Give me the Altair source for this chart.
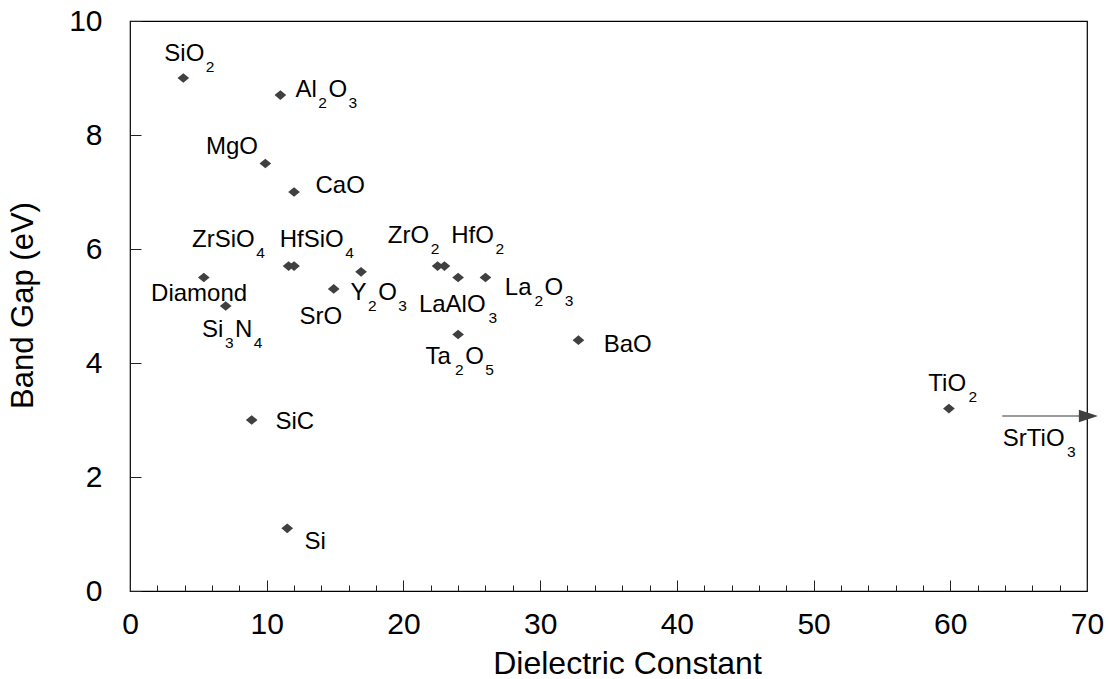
import altair as alt
import pandas as pd

# ---------------- data ----------------
names = ["SiO2", "Al2O3", "MgO", "CaO", "ZrSiO4", "HfSiO4", "Diamond", "Si3N4", "SrO",
         "Y2O3", "ZrO2", "HfO2", "LaAlO3", "La2O3", "Ta2O5", "BaO", "TiO2", "SiC", "Si"]
dielectric = [3.9, 11.0, 9.9, 12.0, 11.6, 12.0, 5.4, 7.0, 14.9,
              16.9, 22.5, 23.0, 24.0, 26.0, 24.0, 32.8, 59.9, 8.9, 11.5]
band_gap = [9.0, 8.7, 7.5, 7.0, 5.7, 5.7, 5.5, 5.0, 5.3,
            5.6, 5.7, 5.7, 5.5, 5.5, 4.5, 4.4, 3.2, 3.0, 1.1]

# annotation labels ("_d" = subscript digit) and their anchors in data units
label_texts = ["SiO_2", "Al_2O_3", "MgO", "CaO", "ZrSiO_4", "HfSiO_4", "Diamond", "Si_3N_4",
               "SrO", "Y_2O_3", "ZrO_2", "HfO_2", "LaAlO_3", "La_2O_3", "Ta_2O_5", "BaO",
               "TiO_2", "SiC", "Si", "SrTiO_3"]
label_x = [2.51, 12.10, 5.56, 13.57, 4.54, 10.95, 1.54, 5.27, 12.39, 16.13, 18.86, 23.50,
           21.13, 27.42, 21.62, 34.65, 58.39, 10.64, 12.76, 63.84]
label_y = [9.30, 8.67, 7.66, 6.99, 6.04, 6.04, 5.09, 4.45, 4.68, 5.11, 6.11, 6.11,
           4.90, 5.19, 3.98, 4.20, 3.51, 2.85, 0.74, 2.54]

# SrTiO3 arrow (off-scale value)
arrow_start = [63.8]
arrow_end = [70.1]
arrow_gap = [3.07]

x_major = [0, 10, 20, 30, 40, 50, 60, 70]
x_minor = [v for v in range(2, 70, 2) if v % 10 != 0]
y_major = [0, 2, 4, 6, 8, 10]

# ---------------- styling ----------------
FONT = "Liberation Sans"
MAIN_FS = 24
SUB_FS = 15.5
SUB_DROP = 11
GAP = 1.5
W, H = 957, 570
XMAX, YMAX = 70, 10

ARIAL = {"S": 667, "i": 222, "O": 778, "A": 667, "l": 222, "M": 833, "g": 556, "C": 722,
         "a": 556, "Z": 611, "r": 333, "H": 722, "f": 278, "D": 722, "m": 833, "o": 556,
         "n": 556, "d": 556, "N": 722, "Y": 667, "L": 611, "T": 611, "B": 667}


def text_width(s, fs):
    return sum(ARIAL.get(c, 556) for c in s) * fs / 1000.0


def segments(label):
    segs, cur, i = [], "", 0
    while i < len(label):
        if label[i] == "_":
            if cur:
                segs.append((cur, False))
                cur = ""
            segs.append((label[i + 1], True))
            i += 2
        else:
            cur += label[i]
            i += 1
    if cur:
        segs.append((cur, False))
    return segs


rows = []
for txt, lx, ly in zip(label_texts, label_x, label_y):
    off = 0.0
    for s, sub in segments(txt):
        fs = SUB_FS if sub else MAIN_FS
        drop = SUB_DROP if sub else 0
        rows.append(dict(
            sx=lx + off * XMAX / W,
            sy=ly - drop * YMAX / H,
            seg=s, fs=fs))
        off += text_width(s, fs) + GAP
labels_df = pd.DataFrame(rows)

points_df = pd.DataFrame({"name": names, "k": dielectric, "gap": band_gap})
arrow_df = pd.DataFrame({"x0": arrow_start, "x1": arrow_end, "y": arrow_gap})

xs = alt.Scale(domain=[0, XMAX], nice=False, zero=False)
ys = alt.Scale(domain=[0, YMAX], nice=False, zero=False)

DIAMOND = "M-1,0L0,-0.83L1,0L0,0.83Z"
ARROWHEAD = "M-1,-0.65L1,0L-1,0.65Z"

points = alt.Chart(points_df).mark_point(
    shape=DIAMOND, filled=True, size=137, color="#404040", opacity=1
).encode(
    x=alt.X("k:Q", scale=xs, axis=alt.Axis(
        orient="bottom", values=x_major, ticks=False, tickSize=0, domain=False, grid=False,
        labelFont=FONT, labelFontSize=30, labelColor="black", labelPadding=18,
        labelFlush=False, labelOverlap=False,
        title="Dielectric Constant", titleFont=FONT, titleFontSize=32,
        titleFontWeight="normal", titleColor="black", titleX=497, titleY=82,
        titleAlign="center", titleBaseline="alphabetic")),
    y=alt.Y("gap:Q", scale=ys, axis=alt.Axis(
        orient="left", values=y_major, ticks=False, tickSize=0, domain=False, grid=False,
        labelFont=FONT, labelFontSize=30, labelColor="black", labelPadding=28,
        labelFlush=False, labelOverlap=False,
        title="Band Gap (eV)", titleFont=FONT, titleFontSize=31,
        titleFontWeight="normal", titleColor="black", titleX=-107, titleY=284,
        titleAlign="center", titleBaseline="middle")),
)

labels = alt.Chart(labels_df).mark_text(
    align="left", baseline="alphabetic", font=FONT, color="black"
).encode(
    x=alt.X("sx:Q", scale=xs, axis=None),
    y=alt.Y("sy:Q", scale=ys, axis=None),
    size=alt.Size("fs:Q", scale=None),
    text="seg:N",
)

arrow_line = alt.Chart(arrow_df).mark_rule(color="#7a7a7a", strokeWidth=1.5).encode(
    x=alt.X("x0:Q", scale=xs, axis=alt.Axis(
        orient="top", offset=-H, values=x_major, tickSize=11, tickColor="#222222",
        labels=False, domain=False, grid=False, title=None)),
    x2="x1:Q",
    y=alt.Y("y:Q", scale=ys, axis=alt.Axis(
        orient="right", offset=-W, values=y_major, tickSize=11, tickColor="#222222",
        labels=False, domain=False, grid=False, title=None)),
)

arrow_head = alt.Chart(arrow_df).mark_point(
    shape=ARROWHEAD, filled=True, size=361, color="#404040", opacity=1
).encode(
    x=alt.X("x1:Q", scale=xs, axis=alt.Axis(
        orient="top", offset=-H, values=x_minor, tickSize=6, tickColor="#222222",
        labels=False, domain=False, grid=False, title=None)),
    y=alt.Y("y:Q", scale=ys, axis=None),
)

chart = alt.layer(points, labels, arrow_line, arrow_head).resolve_axis(
    x="independent", y="independent"
).properties(
    width=W, height=H,
    autosize=alt.AutoSizeParams(type="none"),
    padding={"left": 130, "top": 21, "right": 22, "bottom": 88},
    background="white",
).configure_view(stroke="black", strokeWidth=1.2)

chart.save("out.html", embed_options={"renderer": "svg", "actions": False})
